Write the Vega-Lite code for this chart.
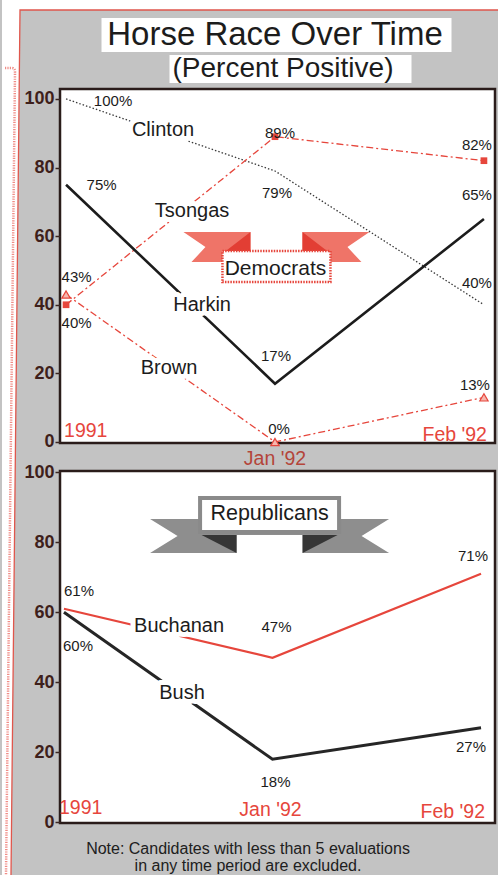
{
  "$schema": "https://vega.github.io/schema/vega-lite/v6.json",
  "background": "#c3c3c3",
  "padding": 0,
  "bounds": "flush",
  "spacing": 28,
  "config": {
    "font": "Liberation Sans",
    "axisY": {
      "labelFontWeight": "bold",
      "labelFontSize": 18,
      "labelColor": "#3e1f1b",
      "labelPadding": 1,
      "tickColor": "#3a2622",
      "tickWidth": 1.5,
      "tickSize": 5,
      "domain": false,
      "grid": false,
      "title": null
    }
  },
  "datasets": {
    "one": [{}],
    "dem": [
      {"candidate": "Clinton", "t": 0, "period": "1991", "pct": 100},
      {"candidate": "Clinton", "t": 1, "period": "Jan '92", "pct": 79},
      {"candidate": "Clinton", "t": 2, "period": "Feb '92", "pct": 40},
      {"candidate": "Tsongas", "t": 0, "period": "1991", "pct": 40},
      {"candidate": "Tsongas", "t": 1, "period": "Jan '92", "pct": 89},
      {"candidate": "Tsongas", "t": 2, "period": "Feb '92", "pct": 82},
      {"candidate": "Harkin", "t": 0, "period": "1991", "pct": 75},
      {"candidate": "Harkin", "t": 1, "period": "Jan '92", "pct": 17},
      {"candidate": "Harkin", "t": 2, "period": "Feb '92", "pct": 65},
      {"candidate": "Brown", "t": 0, "period": "1991", "pct": 43},
      {"candidate": "Brown", "t": 1, "period": "Jan '92", "pct": 0},
      {"candidate": "Brown", "t": 2, "period": "Feb '92", "pct": 13}
    ],
    "rep": [
      {"candidate": "Buchanan", "t": 0, "period": "1991", "pct": 61},
      {"candidate": "Buchanan", "t": 1, "period": "Jan '92", "pct": 47},
      {"candidate": "Buchanan", "t": 2, "period": "Feb '92", "pct": 71},
      {"candidate": "Bush", "t": 0, "period": "1991", "pct": 60},
      {"candidate": "Bush", "t": 1, "period": "Jan '92", "pct": 18},
      {"candidate": "Bush", "t": 2, "period": "Feb '92", "pct": 27}
    ]
  },
  "vconcat": [
    {
      "width": 435,
      "height": 43,
      "view": {"stroke": null},
      "data": {"name": "one"},
      "layer": [
        {"mark": {"type": "point", "shape": "M-275.5,-39.5H222.5V-29.5H-257.5L-266.5,835.5H-275.5Z", "size": 4, "filled": true, "fill": "white", "opacity": 1, "strokeWidth": 0}},
        {"mark": {"type": "point", "shape": "M-266.5,835.5L-257.5,-29.5H222.5", "size": 4, "filled": false, "stroke": "#e0564c", "strokeWidth": 1.3, "opacity": 1}},
        {"mark": {"type": "point", "shape": "M-272.5,28.5H-265.5Q-262.5,28.5,-262.5,32.5L-271.5,835.5", "size": 4, "filled": false, "stroke": "#f08c86", "strokeWidth": 2.5, "strokeDash": [1.2, 1.2], "opacity": 1}},
        {"mark": {"type": "point", "shape": "M-176,-21.5H174V12.5H-176Z M-108,15.5H134V43.5H-108Z", "size": 4, "filled": true, "fill": "white", "opacity": 1, "strokeWidth": 0}},
        {"mark": {"type": "text", "text": "Horse Race Over Time", "fontSize": 33, "baseline": "alphabetic", "dx": -2.5, "dy": 5, "color": "#1c1c1c"}},
        {"mark": {"type": "text", "text": "(Percent Positive)", "fontSize": 28, "baseline": "alphabetic", "dx": 5.5, "dy": 37, "color": "#1c1c1c"}}
      ]
    },
    {
      "width": 435,
      "height": 354,
      "view": {"fill": "white", "stroke": "#2a1c1a", "strokeWidth": 2.5},
      "layer": [
        {
          "data": {"name": "dem"},
          "encoding": {
            "x": {"field": "t", "type": "quantitative", "scale": {"domain": [-0.029, 2.053], "nice": false, "zero": false}, "axis": null},
            "y": {"field": "pct", "type": "quantitative", "scale": {"domain": [-0.3, 102.9], "nice": false, "zero": false}, "axis": {"values": [0, 20, 40, 60, 80, 100], "title": null}}
          },
          "layer": [
            {"transform": [{"filter": "datum.candidate === 'Clinton'"}], "mark": {"type": "line", "color": "#3a3a3a", "strokeWidth": 1.3, "strokeDash": [1.5, 2]}},
            {"transform": [{"filter": "datum.candidate === 'Tsongas'"}], "mark": {"type": "line", "color": "#e6463c", "strokeWidth": 1.3, "strokeDash": [7, 3, 2, 3]}},
            {"transform": [{"filter": "datum.candidate === 'Harkin'"}], "mark": {"type": "line", "color": "#1c1c1c", "strokeWidth": 2.6}},
            {"transform": [{"filter": "datum.candidate === 'Brown'"}], "mark": {"type": "line", "color": "#e6463c", "strokeWidth": 1.3, "strokeDash": [7, 3, 2, 3]}},
            {"transform": [{"filter": "datum.candidate === 'Tsongas'"}], "mark": {"type": "point", "shape": "square", "filled": true, "color": "#e6463c", "size": 45, "opacity": 1}},
            {"transform": [{"filter": "datum.candidate === 'Brown'"}], "mark": {"type": "point", "shape": "triangle-up", "filled": true, "fill": "#f6b6ae", "stroke": "#e6463c", "strokeWidth": 1.2, "size": 70, "opacity": 1}},
            {
              "transform": [{"calculate": "datum.pct + '%'", "as": "label"}],
              "mark": {
                "type": "text",
                "fontSize": 15,
                "color": "#1c1c1c",
                "dx": {"expr": "[[47,2,-7],[10.5,5,-7],[35.5,1,-7],[10.5,4,-9]][indexof(['Clinton','Tsongas','Harkin','Brown'], datum.candidate)][datum.t]"},
                "dy": {"expr": "[[2,22,-22],[18,-4,-16],[0,-28,-24],[-17,-13,-12]][indexof(['Clinton','Tsongas','Harkin','Brown'], datum.candidate)][datum.t]"}
              },
              "encoding": {"text": {"field": "label"}}
            }
          ]
        },
        {
          "data": {"name": "one"},
          "encoding": {"x": {"datum": 1.007, "axis": null}, "y": {"datum": 53.9}},
          "layer": [
            {"mark": {"type": "point", "shape": "M-93,-25L-26,-25L-26,5L-85,5L-71,-10Z M93,-25L26,-25L26,5L85,5L71,-10Z", "size": 4, "filled": true, "fill": "#ef7468", "opacity": 1, "strokeWidth": 0}},
            {"mark": {"type": "point", "shape": "M-26,-25L-26,-5L-52,-5Z M26,-25L26,-5L52,-5Z", "size": 4, "filled": true, "fill": "#e23e34", "opacity": 1, "strokeWidth": 0}},
            {"mark": {"type": "point", "shape": "M-54,-6H54V25H-54Z", "size": 4, "filled": false, "fill": "white", "fillOpacity": 1, "stroke": "#e6463c", "strokeWidth": 2.5, "strokeDash": [1.5, 1.2], "opacity": 1}},
            {"mark": {"type": "text", "text": "Democrats", "fontSize": 21, "color": "#1c1c1c", "dx": -1, "dy": 12}}
          ]
        },
        {
          "data": {"name": "one"},
          "encoding": {"x": {"datum": 0.464, "axis": null}, "y": {"datum": 90.95}, "text": {"value": "Clinton"}},
          "layer": [
            {"mark": {"type": "text", "fontSize": 20, "fill": "white", "stroke": "white", "strokeWidth": 10, "strokeJoin": "round"}},
            {"mark": {"type": "text", "fontSize": 20, "color": "#1c1c1c"}}
          ]
        },
        {
          "data": {"name": "one"},
          "encoding": {"x": {"datum": 0.603, "axis": null}, "y": {"datum": 67.3}, "text": {"value": "Tsongas"}},
          "layer": [
            {"mark": {"type": "text", "fontSize": 20, "fill": "white", "stroke": "white", "strokeWidth": 10, "strokeJoin": "round"}},
            {"mark": {"type": "text", "fontSize": 20, "color": "#1c1c1c"}}
          ]
        },
        {
          "data": {"name": "one"},
          "encoding": {"x": {"datum": 0.651, "axis": null}, "y": {"datum": 39.9}, "text": {"value": "Harkin"}},
          "layer": [
            {"mark": {"type": "text", "fontSize": 20, "fill": "white", "stroke": "white", "strokeWidth": 10, "strokeJoin": "round"}},
            {"mark": {"type": "text", "fontSize": 20, "color": "#1c1c1c"}}
          ]
        },
        {
          "data": {"name": "one"},
          "encoding": {"x": {"datum": 0.493, "axis": null}, "y": {"datum": 21.6}, "text": {"value": "Brown"}},
          "layer": [
            {"mark": {"type": "text", "fontSize": 20, "fill": "white", "stroke": "white", "strokeWidth": 10, "strokeJoin": "round"}},
            {"mark": {"type": "text", "fontSize": 20, "color": "#1c1c1c"}}
          ]
        },
        {
          "data": {"name": "one"},
          "encoding": {"y": {"datum": 0}},
          "layer": [
            {"mark": {"type": "text", "text": "1991", "align": "left", "baseline": "alphabetic", "fontSize": 19.5, "color": "#e6463c", "dx": -2, "dy": -5}, "encoding": {"x": {"datum": 0, "axis": null}}},
            {"mark": {"type": "text", "text": "Jan '92", "align": "center", "baseline": "alphabetic", "fontSize": 19.5, "color": "#b4453a", "dx": 0, "dy": 23}, "encoding": {"x": {"datum": 1, "axis": null}}},
            {"mark": {"type": "text", "text": "Feb '92", "align": "right", "baseline": "alphabetic", "fontSize": 19.5, "color": "#e6463c", "dx": 3, "dy": -1}, "encoding": {"x": {"datum": 2, "axis": null}}}
          ]
        }
      ]
    },
    {
      "width": 435,
      "height": 352,
      "view": {"fill": "white", "stroke": "#2a1c1a", "strokeWidth": 2.5},
      "title": {
        "text": ["Note:  Candidates with less than 5 evaluations", "in any time period are excluded."],
        "orient": "bottom",
        "anchor": "middle",
        "frame": "group",
        "fontSize": 16,
        "fontWeight": "normal",
        "color": "#202020",
        "lineHeight": 16.5,
        "offset": 10,
        "dx": -29.5
      },
      "layer": [
        {
          "data": {"name": "rep"},
          "encoding": {
            "x": {"field": "t", "type": "quantitative", "scale": {"domain": [-0.019, 2.067], "nice": false, "zero": false}, "axis": null},
            "y": {"field": "pct", "type": "quantitative", "scale": {"domain": [-0.2, 100.37], "nice": false, "zero": false}, "axis": {"values": [0, 10, 20, 30, 40, 50, 60, 70, 80, 90, 100], "labelExpr": "datum.value % 20 === 0 ? datum.label : ''", "title": null}}
          },
          "layer": [
            {"transform": [{"filter": "datum.candidate === 'Buchanan'"}], "mark": {"type": "line", "color": "#e6463c", "strokeWidth": 2.2}},
            {"transform": [{"filter": "datum.candidate === 'Bush'"}], "mark": {"type": "line", "color": "#262626", "strokeWidth": 3}},
            {
              "transform": [{"calculate": "datum.pct + '%'", "as": "label"}],
              "mark": {
                "type": "text",
                "fontSize": 15,
                "color": "#1c1c1c",
                "dx": {"expr": "[[15,4,-8],[14,3,-10]][indexof(['Buchanan','Bush'], datum.candidate)][datum.t]"},
                "dy": {"expr": "[[-18,-31,-18],[34,23,19]][indexof(['Buchanan','Bush'], datum.candidate)][datum.t]"}
              },
              "encoding": {"text": {"field": "label"}}
            }
          ]
        },
        {
          "data": {"name": "one"},
          "encoding": {"x": {"datum": 0.986, "axis": null}, "y": {"datum": 84.94}},
          "layer": [
            {"mark": {"type": "point", "shape": "M-119.5,-6L-33,-6L-33,28L-119.5,28L-92,11Z M-68,-6H68V10H-68Z M33,-6L119.5,-6L92,11L119.5,28L33,28Z", "size": 4, "filled": true, "fill": "#8e8e8e", "opacity": 1, "strokeWidth": 0}},
            {"mark": {"type": "point", "shape": "M-68,10L-33,10L-33,28Z M33,10L68,10L33,28Z", "size": 4, "filled": true, "fill": "#363636", "opacity": 1, "strokeWidth": 0}},
            {"mark": {"type": "point", "shape": "M-69.5,-27H69.5V7H-69.5Z", "size": 4, "filled": false, "fill": "white", "fillOpacity": 1, "stroke": "#8a8a8a", "strokeWidth": 4, "opacity": 1}},
            {"mark": {"type": "text", "text": "Republicans", "fontSize": 21.5, "color": "#1c1c1c", "dx": 0, "dy": -11}}
          ]
        },
        {
          "data": {"name": "one"},
          "encoding": {"x": {"datum": 0.552, "axis": null}, "y": {"datum": 56.1}, "text": {"value": "Buchanan"}},
          "layer": [
            {"mark": {"type": "text", "fontSize": 20, "fill": "white", "stroke": "white", "strokeWidth": 10, "strokeJoin": "round"}},
            {"mark": {"type": "text", "fontSize": 20, "color": "#1c1c1c"}}
          ]
        },
        {
          "data": {"name": "one"},
          "encoding": {"x": {"datum": 0.566, "axis": null}, "y": {"datum": 36.9}, "text": {"value": "Bush"}},
          "layer": [
            {"mark": {"type": "text", "fontSize": 20, "fill": "white", "stroke": "white", "strokeWidth": 10, "strokeJoin": "round"}},
            {"mark": {"type": "text", "fontSize": 20, "color": "#1c1c1c"}}
          ]
        },
        {
          "data": {"name": "one"},
          "encoding": {"y": {"datum": 0}},
          "layer": [
            {"mark": {"type": "text", "text": "1991", "align": "left", "baseline": "alphabetic", "fontSize": 19.5, "color": "#e6463c", "dx": -5, "dy": -8}, "encoding": {"x": {"datum": 0, "axis": null}}},
            {"mark": {"type": "text", "text": "Jan '92", "align": "center", "baseline": "alphabetic", "fontSize": 19.5, "color": "#e6463c", "dx": -2, "dy": -6}, "encoding": {"x": {"datum": 1, "axis": null}}},
            {"mark": {"type": "text", "text": "Feb '92", "align": "right", "baseline": "alphabetic", "fontSize": 19.5, "color": "#e6463c", "dx": 4, "dy": -4}, "encoding": {"x": {"datum": 2, "axis": null}}}
          ]
        }
      ]
    }
  ]
}
